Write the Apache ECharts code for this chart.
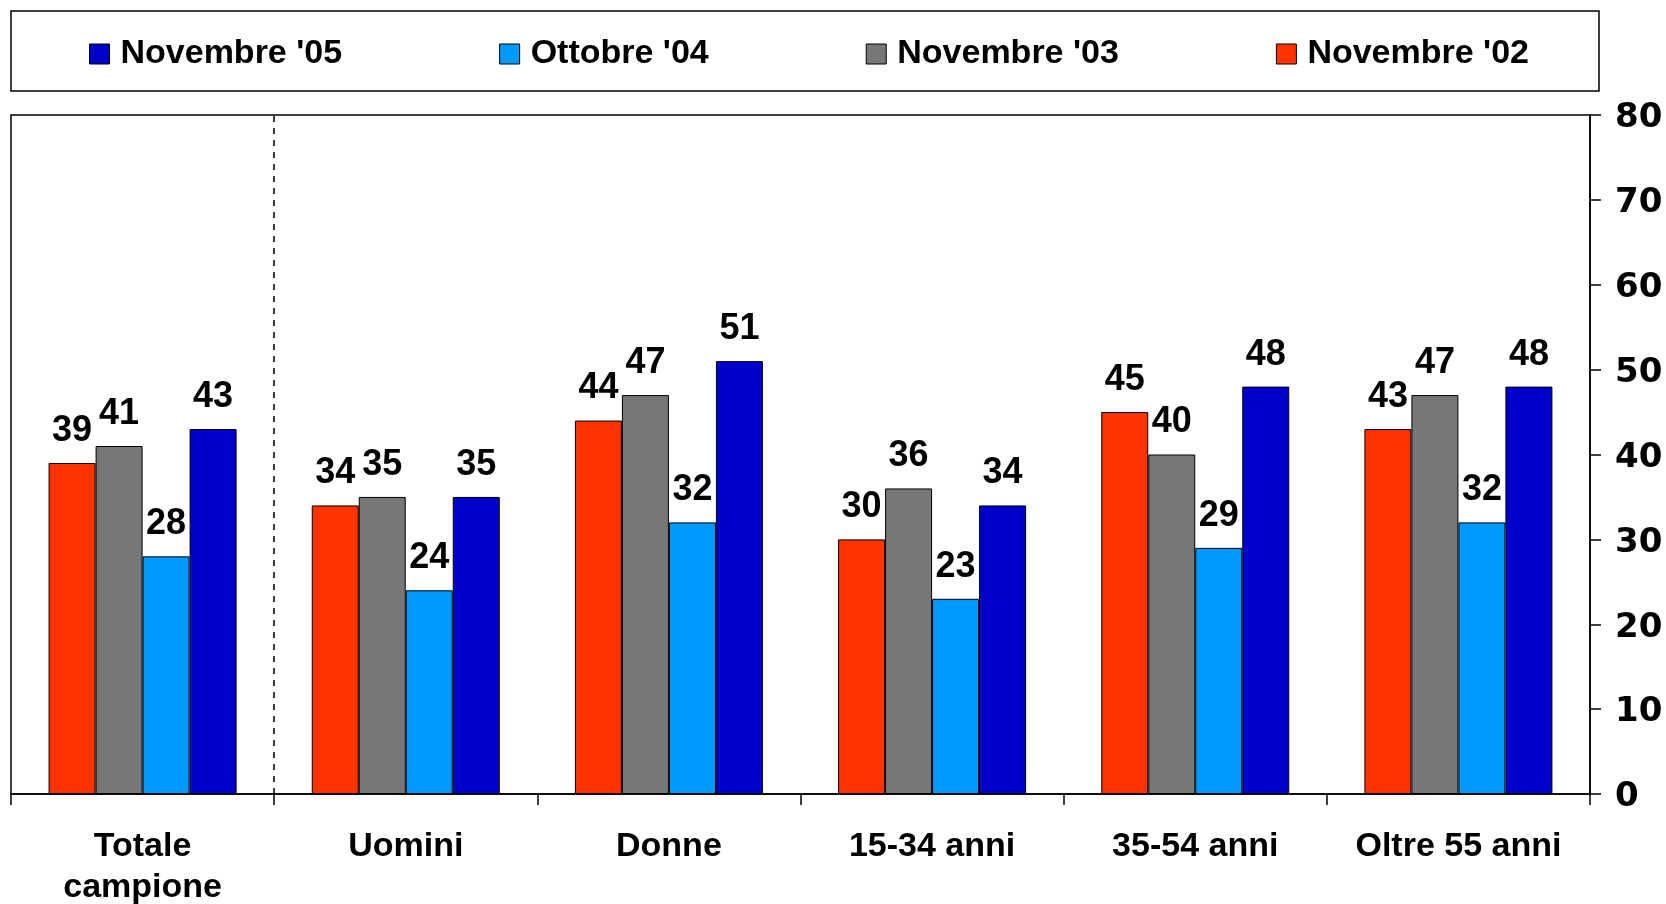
<!DOCTYPE html>
<html>
<head>
<meta charset="utf-8">
<script src="https://cdn.jsdelivr.net/npm/echarts@6/dist/echarts.min.js"></script>
<style>
  html, body { margin: 0; padding: 0; background: #fff; }
  #chart { width: 1666px; height: 904px; }
</style>
</head>
<body>
<div id="chart"></div>
<script>
const categories = ['Totale\ncampione', 'Uomini', 'Donne', '15-34 anni', '35-54 anni', 'Oltre 55 anni'];
const nov02 = [39, 34, 44, 30, 45, 43];
const nov03 = [41, 35, 47, 36, 40, 47];
const ott04 = [28, 24, 32, 23, 29, 32];
const nov05 = [43, 35, 51, 34, 48, 48];
const legendOrder = ["Novembre '05", "Ottobre '04", "Novembre '03", "Novembre '02"];
// dashed separator sits after the first group (boundary index on a 0..6 scale)
const separatorAt = 1;

const chart = echarts.init(document.getElementById('chart'), null, { renderer: 'canvas' });

function bar(name, data, color) {
  return {
    name: name,
    type: 'bar',
    data: data,
    barWidth: 47,
    barGap: '0%',
    itemStyle: { color: color, borderColor: '#000', borderWidth: 1 },
    label: {
      show: true,
      position: 'top',
      distance: 14,
      color: '#000',
      fontFamily: 'Liberation Sans',
      fontWeight: 'bold',
      fontSize: 36
    }
  };
}

chart.setOption({
  animation: false,
  backgroundColor: '#fff',
  graphic: [{
    type: 'rect',
    shape: { x: 11, y: 11, width: 1588, height: 80 },
    style: { fill: 'none', stroke: '#000', lineWidth: 1.5 },
    z: -1
  }],
  legend: {
    data: legendOrder,
    left: 89,
    top: 37,
    padding: 0,
    itemWidth: 20,
    itemHeight: 20,
    itemGap: 157,
    icon: 'rect',
    itemStyle: { borderColor: '#000', borderWidth: 1 },
    textStyle: {
      color: '#000',
      fontFamily: 'Liberation Sans',
      fontWeight: 'bold',
      fontSize: 34,
      padding: [0, 0, 0, 6]
    }
  },
  grid: {
    left: 11, right: 76, top: 115, bottom: 110,
    outerBoundsMode: 'none',
    show: true, borderColor: '#000', borderWidth: 1.5
  },
  xAxis: [{
    type: 'category',
    data: categories,
    axisLine: { onZero: false, lineStyle: { color: '#000', width: 1.5 } },
    axisTick: { show: true, length: 11, lineStyle: { color: '#000', width: 1.5 } },
    axisLabel: {
      interval: 0,
      margin: 32,
      color: '#000',
      fontFamily: 'Liberation Sans',
      fontWeight: 'bold',
      fontSize: 34,
      lineHeight: 41
    },
    splitLine: { show: false }
  }, {
    type: 'value',
    min: 0,
    max: categories.length,
    show: false
  }],
  yAxis: {
    type: 'value',
    position: 'right',
    min: 0,
    max: 80,
    interval: 10,
    axisLine: { show: true, onZero: false, lineStyle: { color: '#000', width: 1.5 } },
    axisTick: { show: true, length: 11, lineStyle: { color: '#000', width: 1.5 } },
    splitLine: { show: false },
    axisLabel: {
      margin: 25,
      formatter: '{v|{value}}',
      rich: {
        v: {
          color: '#000',
          fontFamily: 'DejaVu Sans',
          fontWeight: 'bold',
          fontSize: 34,
          padding: [7, 0, 0, 0]
        }
      }
    }
  },
  series: [
    bar("Novembre '02", nov02, '#FF3300'),
    bar("Novembre '03", nov03, '#777777'),
    bar("Ottobre '04", ott04, '#0099FF'),
    bar("Novembre '05", nov05, '#0000CC'),
    {
      name: 'separator',
      type: 'line',
      xAxisIndex: 1,
      data: [],
      silent: true,
      markLine: {
        silent: true,
        symbol: 'none',
        label: { show: false },
        lineStyle: { color: '#000', type: [6, 6], width: 1.5 },
        data: [{ xAxis: separatorAt }]
      }
    }
  ]
});

window.addEventListener('resize', function () {
  chart.resize();
});
</script>
</body>
</html>
